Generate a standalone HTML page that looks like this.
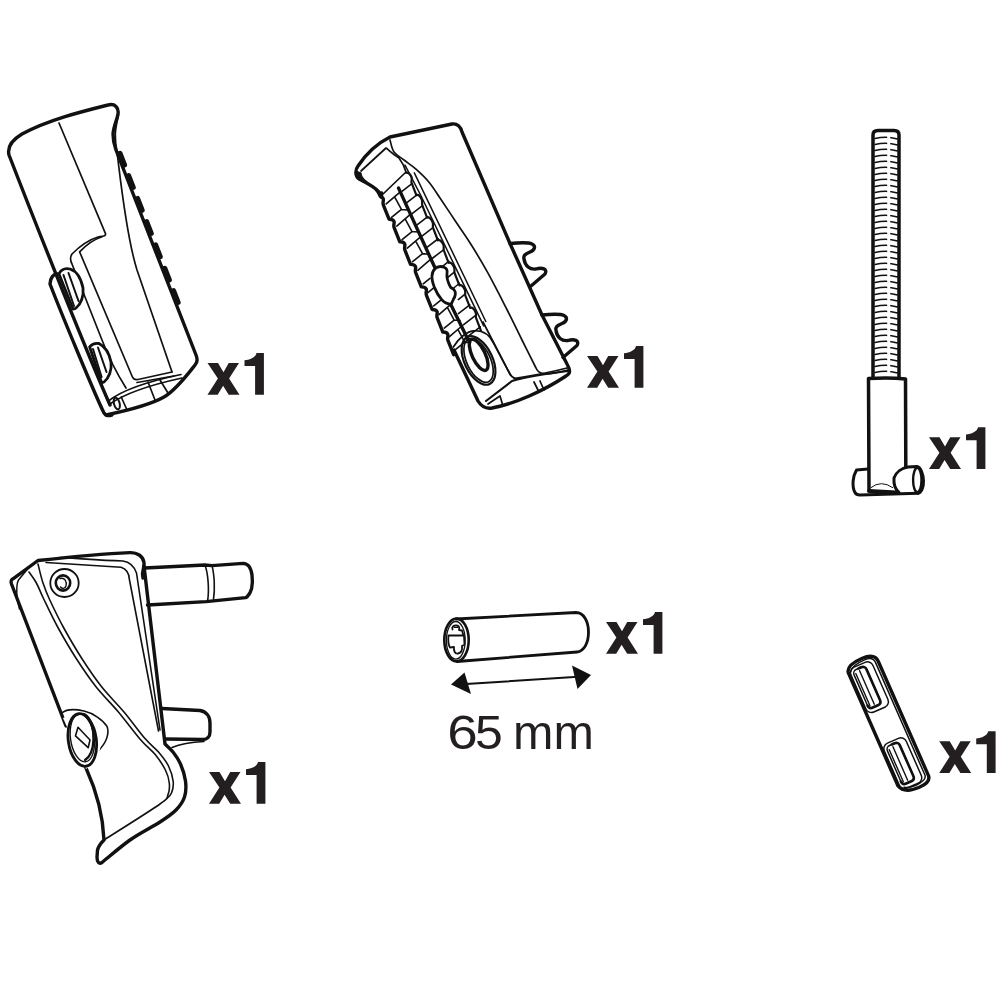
<!DOCTYPE html>
<html><head><meta charset="utf-8">
<style>
html,body{margin:0;padding:0;background:#fff;width:1000px;height:1000px;overflow:hidden}
svg{display:block}
.o{fill:none;stroke:#111;stroke-width:3.4;stroke-linejoin:round;stroke-linecap:round}
.m{fill:none;stroke:#111;stroke-width:2.2;stroke-linejoin:round;stroke-linecap:round}
.t{fill:none;stroke:#111;stroke-width:1.7;stroke-linejoin:round;stroke-linecap:round}
.f{fill:#111;stroke:none}
.w{fill:#fff}
.lbl{fill:#231f20}
</style></head>
<body>
<svg width="1000" height="1000" viewBox="0 0 1000 1000">
<defs>
<path id="x1" class="lbl" d="M0,-31.8 L10.5,-31.8 L16,-22.6 L21.2,-31.8 L31.5,-31.8 L21.6,-16.2 L32,0 L21.2,0 L15.6,-9 L10.2,0 L0,0 L10.4,-16.2 Z M37,-34.6 C42.5,-35 48.2,-37.4 49,-41.8 L56.4,-41.8 L56.4,0 L47.6,0 L47.6,-28.8 L37,-28.8 Z"/>
</defs>

<!-- labels -->
<use href="#x1" x="207.5" y="394.8"/>
<use href="#x1" x="587" y="387.8"/>
<use href="#x1" x="929" y="469"/>
<use href="#x1" x="209" y="803.8"/>
<use href="#x1" x="606" y="653.8"/>
<use href="#x1" x="939.2" y="773"/>
<g font-family="Liberation Sans" font-size="48.5" fill="#231f20">
<text transform="translate(447.2,748.8) scale(1.13,1)">6</text>
<text transform="translate(475,748.8) scale(1.03,1)">5</text>
<text x="513" y="748.8">mm</text>
</g>

<!-- PART 1 -->
<g id="p1">
<path class="o" d="M110,405 C90,360 40,235 9,155 C7,147 12,140 22,134 C48,120 80,112 108,105 C115,103 119,108 118,114 C117,120 113.5,126 113,134 C113,141 114.5,146 116,150 L196,355 C198,360 197,363 195,365 C188,374 176,390 164,397 C150,405 125,411 106,415"/>
<path class="o" d="M58,274 C54,273 50,278 50,284 C60,310 95,395 104,413 C106,416 108,416 112,415"/>
<path class="t" d="M59,123 L105.5,233.6 C106,236 104,236 98,237 C88,240 78,248 72,254 C70,257 70,260 72,264 L102,340 C108,356 116,372 126,388"/>
<path class="t" d="M102,236.7 C95,239 86,245 79.6,251.8 L132,376 C133,379 135,380 138,379.5 L172,372 M137,382.5 L174,376"/>
<path class="t" d="M118.5,115 C117,122 115.3,128 115.3,135 C115.3,142 116,147 117,152 C120,175 126,235 137,270 L172,372"/>
<path class="t" d="M108.5,401 C122,390 150,381 181,374.5 M110,404 C124,394 150,385 182,378 M148,382 L155,400 M160,380 L168,393 M121.2,397 L126.6,409"/>
<ellipse class="m" style="stroke-width:2" cx="116.8" cy="403.5" rx="2.8" ry="6" transform="rotate(-15 116.8 403.5)"/>
<!-- ridges -->
<g class="f">
<rect x="119.4" y="150.4" width="5.4" height="17.6" rx="2.5" transform="rotate(-21.3 122.1 159.2)"/>
<rect x="128.1" y="172.8" width="5.4" height="17.6" rx="2.5" transform="rotate(-21.3 130.8 181.6)"/>
<rect x="137.0" y="195.6" width="5.4" height="17.6" rx="2.5" transform="rotate(-21.3 139.7 204.4)"/>
<rect x="146.1" y="218.8" width="5.4" height="17.6" rx="2.5" transform="rotate(-21.3 148.8 227.6)"/>
<rect x="155.1" y="242.0" width="5.4" height="17.6" rx="2.5" transform="rotate(-21.3 157.8 250.8)"/>
<rect x="164.2" y="265.4" width="5.4" height="17.6" rx="2.5" transform="rotate(-21.3 166.9 274.2)"/>
<rect x="173.0" y="287.8" width="5.4" height="17.6" rx="2.5" transform="rotate(-21.3 175.7 296.6)"/>
</g>
<!-- knobs -->
<path class="o w" style="stroke-width:2.8" d="M59,274 C61,269 66,268 70,269 C76,271 81,278 83,288 C84,296 81,304 76,308 C75,309 74,309 73,309 Z"/>
<path class="m" style="stroke-width:2" d="M63.5,275 L74,306 M68.5,273 L78.5,301"/>
<path class="o w" style="stroke-width:2.8" d="M89.6,346.8 C92,344 96,343 99,343.5 C104,346 109,352 111,362 C112,370 109,378 104,382 L101.6,382.8 Z"/>
<path class="m" style="stroke-width:2" d="M93,349 L101.6,377 M98,347.5 L106.5,372"/>
</g>
<!-- PART 2 -->
<g id="p2">
<path class="o" d="M381,197 L379,192 C375,187 367,183 359,179 C355,176 355,170 358,166 C366,154 378,143 390,137 L452,124 C457,123 461,127 462,132 L510,243.5 L542,315 L567,364 C571,371 570,374 566,376 C545,390 515,404 492,408 C485,409 481,406 478,401 L454,350"/>
<path class="f" style="stroke:#111;stroke-width:1.2;stroke-linejoin:round" d="M356,171 C356,176 360,180 367,183 C372,186 377,191 379.5,197 L378.5,193 C376,189 372,185.5 367,182 C363,179 361,176.5 361,173 Z" />
<path class="o" d="M510,243.5 C515,243 528,242 532,244 C536,246 535,250 530,252 C526,254 523,255 524,259 C525,266 530,270 536,269 C542,267 548,269 545,274 L531,286"/>
<path class="o" transform="translate(32,71.5)" d="M510,243.5 C515,243 528,242 532,244 C536,246 535,250 530,252 C526,254 523,255 524,259 C525,266 530,270 536,269 C542,267 548,269 545,274 L531,286"/>
<path class="t" d="M390.0,140.0 C390.7,142.0 391.7,148.7 394.0,152.0 C396.3,155.3 400.3,157.1 404.0,160.0 C407.7,162.9 411.9,165.5 416.0,169.2 C420.1,172.9 424.8,177.2 428.8,182.0 C432.8,186.8 435.5,191.3 440.0,198.0 C444.5,204.7 450.7,214.0 456.0,222.0 C461.3,230.0 466.7,237.5 472.0,246.0 C477.3,254.5 482.1,262.5 488.0,273.2 C493.9,283.9 501.5,298.9 507.2,310.0 C512.9,321.1 517.2,330.3 522.0,340.0 C526.8,349.7 533.7,363.3 536.0,368.0 C539,375 545,376 568,370"/>
<path class="t" d="M361,171 L386,148 C388,149 391,153 399,158 C402,162 405,168 406,172 L382,195"/>
<path class="m" d="M486,401 L512,381 C522,378 545,374 568,371"/>
<path class="t" d="M514,378.5 C530,376 550,372.5 567,368 M483,322 L510,374 C512,378 515,379 520,379 M488,404 L500,396 L503,406 M534,382 L539,392 M540,381 L544,390"/>
<g transform="translate(399,189) rotate(-25.5)">
<path class="o" d="M-17.5,-4 C-20,-1 -18.5,0 -18.5,2 C-18.5,4 -21,5 -21,8 L-22,23 C-20,24 -18.5,25 -18.5,27 C-18.5,29 -21,30 -21,33 L-22,48 C-20,49 -18.5,50 -18.5,52 C-18.5,54 -21,55 -21,58 L-22,73 C-20,74 -18.5,75 -18.5,77 C-18.5,79 -21,80 -21,83 L-22,98 C-20,99 -18.5,100 -18.5,102 C-18.5,104 -21,105 -21,108 L-22,123 C-20,124 -18.5,125 -18.5,127 C-18.5,129 -21,130 -21,133 L-22,148 C-20,149 -18.5,150 -18.5,152 C-18.5,154 -21,155 -21,158 L-22,173 L-20.5,172"/>
<path class="m" d="M13.5,-11.5 C15,-11.5 16.5,-9 16.5,-6 C16.5,-3 14,-2 14,0 L13,13 C15,13 16,16 16,19 C16,22 14,23 14,25 L13,38 C15,38 16,41 16,44 C16,47 14,48 14,50 L13,63 C15,63 16,66 16,69 C16,72 14,73 14,75 L13,88 C15,88 16,91 16,94 C16,97 14,98 14,100 L13,113 C15,113 16,116 16,119 C16,122 14,123 14,125 L13,138 C15,138 16,141 16,144 C16,147 14,148 14,150 L13,163 "/>
<path class="o" style="stroke-width:3.4" d="M0,-1 L-1.5,88 M-3,126 L-2.5,166"/>
<path class="o w" style="stroke-width:2.8" d="M-1.9,87.5 C1,86.5 4,87 7,90 C9,92 8.5,95 6.7,97.4 C5,100 4,105 4.2,111 C5,112 6.8,113.5 6.5,116.5 C6.2,119.5 4,121.5 1.6,123 C0,124.5 -1.5,126 -3.1,126.3 C-6,124.5 -8.5,121 -9.2,118 C-10.5,113 -10.6,108 -10.4,104 C-10,99 -9,95 -7.7,92.7 C-6,89.5 -4,88 -1.9,87.5 Z"/>
<path class="t" style="stroke-width:1.5" d="M15.7,-19 L16.9,14.7 L17.5,160 M20.8,-8 L21.3,157"/>
<path class="t" style="stroke-width:1.6" d="M-18,8.0 L-1.5,3.5 M-7.3,6.0 L-6.6,19.5 M-6.6,19.5 L-1.5,22.5 M-19,22.5 L-6.6,19.5 M-18,32.5 L-1.5,28.0 M-7.3,30.5 L-6.6,44.0 M-6.6,44.0 L-1.5,47.0 M-19,47.0 L-6.6,44.0 M-18,57.0 L-1.5,52.5 M-7.3,55.0 L-6.6,68.5 M-6.6,68.5 L-1.5,71.5 M-19,71.5 L-6.6,68.5 M-18,81.5 L-1.5,77.0 M-19,96.0 L-10.5,94.0 M-18.5,106.0 L-10.5,104.0 M-19,120.5 L-10.5,118.5 M-18,130.5 L-1.5,126.0 M-7.3,128.5 L-6.6,142.0 M-6.6,142.0 L-1.5,145.0 M-19,145.0 L-6.6,142.0 M-18,155.0 L-1.5,150.5 M-7.3,153.0 L-6.6,166.5 M-6.6,166.5 L-1.5,169.5 M-19,169.5 L-6.6,166.5 M0,3.8 L14,0.8 M0,16.0 L14,13.0 M0,28.2 L14,25.2 M0,40.4 L14,37.4 M0,52.6 L14,49.6 M0,64.8 L14,61.8 M0,77.0 L14,74.0 M6,88.7 L14,86.7 M6,100.9 L14,98.9 M6,113.1 L14,111.1 M6,125.3 L14,123.3 M0,138.0 L14,135.0 M0,150.2 L14,147.2 M0,162.4 L14,159.4 "/>
<path class="t" d="M-19,166 C-10,160 0,158 6,160 C14,163 19,170 19,180 L20.5,216"/>
<ellipse class="m" cx="-2" cy="189" rx="14" ry="26"/>
<ellipse class="t" cx="-2" cy="189" rx="11.8" ry="23.5"/>
<ellipse class="o" cx="0.5" cy="184" rx="6.5" ry="17"/>
</g>
</g>
<!-- PART 3 -->
<g id="p3">
<path class="t" style="stroke-width:1.55" d="M875,138.6 Q886,135.7 897.5,138.9 M875,144.6 Q886,141.7 897.5,144.9 M875,150.6 Q886,147.7 897.5,150.9 M875,156.6 Q886,153.7 897.5,156.9 M875,162.6 Q886,159.7 897.5,162.9 M875,168.6 Q886,165.7 897.5,168.9 M875,174.6 Q886,171.7 897.5,174.9 M875,180.6 Q886,177.7 897.5,180.9 M875,186.6 Q886,183.7 897.5,186.9 M875,192.6 Q886,189.7 897.5,192.9 M875,198.6 Q886,195.7 897.5,198.9 M875,204.6 Q886,201.7 897.5,204.9 M875,210.6 Q886,207.7 897.5,210.9 M875,216.6 Q886,213.7 897.5,216.9 M875,222.6 Q886,219.7 897.5,222.9 M875,228.6 Q886,225.7 897.5,228.9 M875,234.6 Q886,231.7 897.5,234.9 M875,240.6 Q886,237.7 897.5,240.9 M875,246.6 Q886,243.7 897.5,246.9 M875,252.6 Q886,249.7 897.5,252.9 M875,258.6 Q886,255.7 897.5,258.9 M875,264.6 Q886,261.7 897.5,264.9 M875,270.6 Q886,267.7 897.5,270.9 M875,276.6 Q886,273.7 897.5,276.9 M875,282.6 Q886,279.7 897.5,282.9 M875,288.6 Q886,285.7 897.5,288.9 M875,294.6 Q886,291.7 897.5,294.9 M875,300.6 Q886,297.7 897.5,300.9 M875,306.6 Q886,303.7 897.5,306.9 M875,312.6 Q886,309.7 897.5,312.9 M875,318.6 Q886,315.7 897.5,318.9 M875,324.6 Q886,321.7 897.5,324.9 M875,330.6 Q886,327.7 897.5,330.9 M875,336.6 Q886,333.7 897.5,336.9 M875,342.6 Q886,339.7 897.5,342.9 M875,348.6 Q886,345.7 897.5,348.9 M875,354.6 Q886,351.7 897.5,354.9 M875,360.6 Q886,357.7 897.5,360.9 M875,366.6 Q886,363.7 897.5,366.9 M875,372.6 Q886,369.7 897.5,372.9 "/>
<rect x="887.2" y="133" width="3" height="243" fill="#fff"/>
<path class="o" style="stroke-width:3.5" d="M873,378 L873,135 C873,132 874.5,130.6 878,130.6 L894,130.6 C897.5,130.6 899,132 899,135 L899,378"/>
<path class="o" style="stroke-width:3.5" d="M869,490 L868.5,378.5 C880,377.8 895,377.8 905.5,379 L905.8,467"/>
<path class="o" style="stroke-width:3" d="M868,469 L856.5,470 C853,476 851.5,486 855,492.5 C856,494.5 858,495 860,495 L918,493.3"/>
<path class="o" style="stroke-width:3" d="M894,478 C896,472 902,468 908,467 L917,466.6 C920.5,466.8 923.3,474 923.5,481 C923.7,488 921,493 918,493.3 M894,478 C893.5,484 895,489 899,492.5"/>
<ellipse class="m" style="stroke-width:2.4" cx="917.3" cy="480" rx="4.2" ry="12.3"/>
<path class="o" style="stroke-width:4" d="M869,491 L896,492.5"/>
<path class="t" style="stroke-width:1" d="M871,487.6 Q881,479.5 892.7,487.6"/>
</g>
<!-- PART 4 -->
<g id="p4">
<!-- upper pin -->
<path class="o" d="M144.5,568 L204.8,565 L212,565.6 L243.2,563.4 C248,563.5 251,568 252,575 C253,583 252,592 247,597 L245.6,597.6 L206,601.6 L147.5,605"/>
<path class="t" style="stroke-width:1.6" d="M204.8,565 C208,572 209.5,590 207.5,601.6 M212,565.6 C214.5,575 215,590 213.5,599.4"/>
<!-- lower pin -->
<path class="o" d="M162,708.5 L200,710.5 C206,711.5 210,716 210,723 L210,732 C210,737 207,739.5 203,739.5 L166,739"/>
<path class="t" style="stroke-width:1.6" d="M172,747.5 C180,744 192,742 204,741.5"/>
<!-- outline -->
<path class="o" d="M144,566 L165,744 C166.3,745.3 170.4,748.7 173.0,752.0 C175.6,755.3 178.4,759.2 180.5,764.0 C182.6,768.8 184.8,775.5 185.5,781.0 C186.2,786.5 186.1,792.2 184.5,797.0 C182.9,801.8 180.1,805.8 176.0,810.0 C171.9,814.2 167.7,817.0 160.0,822.0 C152.3,827.0 139.7,833.2 130.0,840.0 C120.3,846.8 106.7,858.8 102.0,862.5 C99,864.5 97,862 97,857 L97.5,850 C98.5,846 101,843 104,840 C103,815 96,790 86,768"/>
<path class="o" d="M66,726 L11.5,584 C10.5,581 11,580 13,578.8 L38,560.5 C70,557 100,554 130,552.6 C137,552.3 143,556 144,562.4 C144.5,566 143,569 142.5,574 L143,578"/>
<!-- rims -->
<path class="t" style="stroke-width:1.6" d="M60,557.5 C80,558.5 100,560.5 123,561 C130,562 134,566 136.5,573 L160,730"/>
<path class="t" style="stroke-width:1.5" d="M30,566 L18.5,580 C16.5,583 16.5,590 17,598 L19.5,609"/>
<path class="t" style="stroke-width:1.6" d="M46,562.5 L121,567.3 C126,569 129,573 129.3,579 L158.5,731"/>
<path class="t" style="stroke-width:1.6" d="M29.0,572.0 C30.2,573.8 33.9,578.3 36.4,583.0 C38.9,587.7 40.6,592.5 44.2,600.0 C47.8,607.5 52.8,618.2 58.2,628.0 C63.6,637.8 70.1,649.0 76.4,658.8 C82.7,668.6 89.0,677.9 96.0,686.8 C103.0,695.7 110.9,703.1 118.4,712.0 C125.9,720.9 134.7,733.0 140.8,740.0 C146.9,747.0 150.9,749.3 155.0,754.3 C159.1,759.3 163.0,765.2 165.4,770.0 C167.8,774.8 168.9,778.9 169.3,783.0 C169.7,787.1 169.6,791.1 168.0,794.6 C166.4,798.1 170.7,796.4 160.0,804.0 C149.3,811.6 113.3,834.0 104.0,840.0 "/>
<path class="t" style="stroke-width:1.6" d="M38.0,564.0 C38.8,567.2 41.0,577.0 43.0,583.0 C45.0,589.0 46.3,592.5 49.8,600.0 C53.3,607.5 58.4,618.2 63.8,628.0 C69.2,637.8 75.7,649.0 82.0,658.8 C88.3,668.6 94.6,677.9 101.6,686.8 C108.6,695.7 116.8,703.4 124.0,712.0 C131.2,720.6 139.2,731.9 145.0,738.6 C150.8,745.3 154.6,747.4 158.5,752.0 C162.4,756.6 166.1,761.1 168.5,766.0 C170.9,770.9 172.7,777.1 173.2,781.6 C173.7,786.1 172.6,790.2 171.5,793.0 C170.4,795.8 167.5,797.6 166.7,798.5 "/>
<!-- screw top -->
<ellipse class="m" style="stroke-width:1.8" cx="64.5" cy="583" rx="14.2" ry="14"/>
<ellipse class="o" style="stroke-width:2.6" cx="63" cy="583" rx="7.2" ry="7.6"/>
<path class="t" style="stroke-width:1.4" d="M60,578.5 C65,577 67,582 66,586 C65,589 62,589 60.5,587"/>
<!-- screw lower -->
<path class="t" style="stroke-width:1.6" d="M62,712.8 C66,709.5 75,709 84,711 C93,713 103,720 107,726.4 C109,731 108,740 101,747.7 C97,753 92,760 86.5,765.5"/>
<path class="w" d="M63,718 L86,769 L98,760 L104,728 L80,712 Z"/>
<ellipse class="o" style="stroke-width:2.8" cx="82.3" cy="740" rx="14" ry="26.5" transform="rotate(-8 82.3 740)"/>
<ellipse class="t" style="stroke-width:1.4" cx="82.3" cy="738" rx="11.8" ry="24" transform="rotate(-8 82.3 738)"/>
<path class="m" style="stroke-width:2.4" d="M84,714 C91,717 94,730 93.5,740 C93,750 90,757 85,760"/>
<path class="m" style="stroke-width:1.6" d="M78,727.3 L90,740 L88.2,747.7 L75.5,735.8 Z"/>
</g>
<!-- PART 5 -->
<g id="p5">
<path class="o" style="stroke-width:2.8" d="M456,619 L576,612.5 C584,612.5 588.5,622 588.5,632 C588.5,643 584,651.5 577,652 L457,661.5"/>
<ellipse class="o" style="stroke-width:2.6" cx="456.5" cy="640" rx="12.2" ry="21.4"/>
<ellipse class="t" style="stroke-width:1.3" cx="455.8" cy="640.3" rx="9.4" ry="18.8"/>
<path class="m" style="stroke-width:1.8" d="M452.5,629.5 C451.5,626.5 453.5,625.5 456,625.5 C458.5,625.5 460,627 459,630 L462,630.5 L463.5,635.5 L448.5,635.5 C448,640 448.5,645 450,647.5 L454,647 C453.5,651 455,654 458,653.5 C461,653 462.5,650 462,646 L464.5,644.5 L464,636"/>
<path class="t" style="stroke-width:1.2" d="M454,627.5 L458,627.5"/>
<!-- arrow -->
<path class="m" style="stroke-width:2" d="M466,684 L578,676.8"/>
<path class="f" d="M451,684.5 L464.5,672.5 L471,694 Z"/>
<path class="f" d="M591,675 L572,665.5 L577.5,689 Z"/>
</g>
<!-- PART 6 -->
<g id="p6" transform="translate(887.4,721.9) rotate(-23.7)">
<path class="o" d="M-16,-61 C-15,-66 -8,-68.4 2,-68.4 C10,-68.4 16,-66 16,-59 L16,66 C15.5,71 10,72.7 3,72.7 C-7,72.7 -14,70 -16,63 Z"/>
<path class="t" style="stroke-width:1.5" d="M-13.3,-61 C-11,-64.5 -3,-66 4,-66 C10,-66 13,-63.5 13,-59 L13,64 C12.5,68 7,69.5 0,69.5 C-5,69.5 -8,68.5 -11,66.5"/>
<g id="slot">
<rect class="t" style="stroke-width:1.5" x="-14.5" y="-63.5" width="24" height="49" rx="6"/>
<rect class="t" style="stroke-width:1.5" x="-11.6" y="-60.5" width="13.6" height="41.5" rx="4"/>
<path class="m" style="stroke-width:2.6" d="M-5,-60.5 L-2,-60.5 C0.5,-60.5 2,-59 2,-56.5 L2,-23 C2,-20.5 0.5,-19 -2,-19 L-7.6,-19 C-10,-19 -11.6,-20.5 -11.6,-23"/>
<path class="t" style="stroke-width:1.4" d="M-9.5,-57 L-9.5,-22 M-4.9,-58 L-4.9,-21.5"/>
</g>
<use href="#slot" transform="translate(0,83)"/>
</g>
</svg>
</body></html>
